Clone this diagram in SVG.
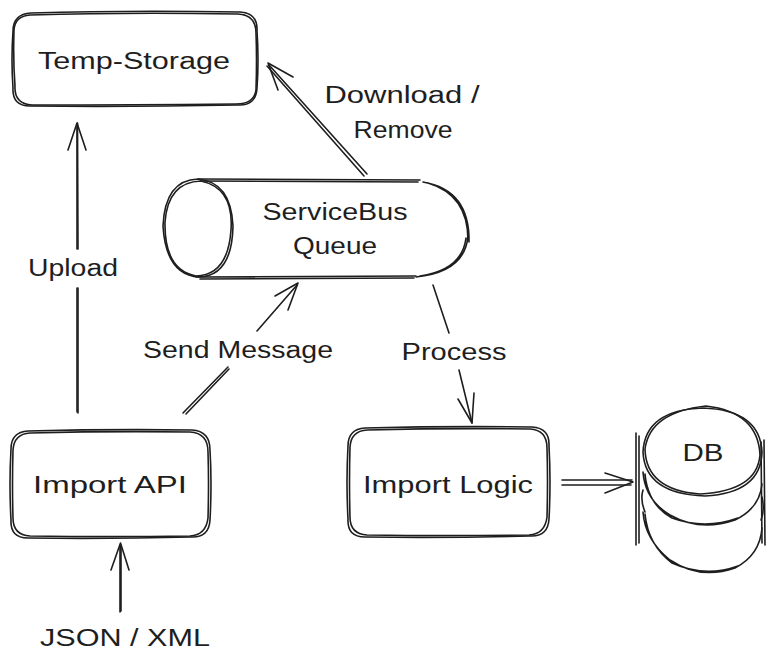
<svg xmlns="http://www.w3.org/2000/svg" width="776" height="667" viewBox="0 0 776 667">
<defs>
<style>
.s{fill:none;stroke:#1e1e1e;stroke-width:1.6;stroke-linecap:round;stroke-linejoin:round}
.f{fill:#ffffff;stroke:none}
text{font-family:"Liberation Sans","DejaVu Sans",sans-serif;font-size:23px;fill:#1e1e1e;text-anchor:middle;dominant-baseline:central}
</style>
</defs>
<rect width="776" height="667" fill="#ffffff"/>

<g id="connectors">
  <!-- Upload -->
  <path class="s" d="M77 412 L77 288 M77 249 L77 124"/>
  <path class="s" d="M78 413 L78 288 M78 249 L77.5 123"/>
  <path class="s" d="M68 150 L77 123 L86 150"/>
  <text x="73" y="268" textLength="90" lengthAdjust="spacingAndGlyphs">Upload</text>
  <!-- JSON / XML -->
  <path class="s" d="M120 612 L120 545 M121 611 L121 546"/>
  <path class="s" d="M111 570 L120.5 543 L129 570"/>
  <text x="125" y="638" textLength="170" lengthAdjust="spacingAndGlyphs">JSON / XML</text>
  <!-- Download / Remove -->
  <path class="s" d="M367 174 L269 65 M364 176 L267 66"/>
  <path class="s" d="M293 77 L268 63 L278 90"/>
  <text x="402" y="95" textLength="155" lengthAdjust="spacingAndGlyphs">Download /</text>
  <text x="403" y="130" textLength="99" lengthAdjust="spacingAndGlyphs">Remove</text>
  <!-- Send Message -->
  <path class="s" d="M183 413 L228 367 M186 414 L229 369 M257 331 L297 285"/>
  <path class="s" d="M275 296 L298 283 L288 310"/>
  <text x="238" y="350" textLength="190" lengthAdjust="spacingAndGlyphs">Send Message</text>
  <!-- Process -->
  <path class="s" d="M433 285 L449 333 M459 370 L472 423"/>
  <path class="s" d="M458 399 L472 423 L474 393"/>
  <text x="454" y="352" textLength="105" lengthAdjust="spacingAndGlyphs">Process</text>
  <!-- Import Logic -> DB -->
  <path class="s" d="M562 480 L632 480 M562 485 L631 485"/>
  <path class="s" d="M605 473 L633 482 L605 493"/>
</g>

<g id="temp-storage">
  <rect class="f" x="12" y="12" width="246" height="94" rx="18"/>
  <path class="s" d="M31 13 Q130 10 240 12 Q258 13 257 31 Q259 60 257 88 Q256 106 238 105 Q130 107 30 106 Q12 106 13 88 Q11 60 13 31 Q13 14 31 13"/>
  <path class="s" d="M30 15 Q130 12 238 14 Q256 15 256 33 Q257 60 256 90 Q254 104 236 104 Q130 105 32 105 Q14 104 15 86 Q13 60 14 30 Q15 16 30 15"/>
  <text x="134" y="61" textLength="192" lengthAdjust="spacingAndGlyphs">Temp-Storage</text>
</g>

<g id="servicebus-queue">
  <path class="f" d="M198 178 L435 178 Q472 180 470 228 Q468 276 430 278 L198 278 Z"/>
  <ellipse class="f" cx="198" cy="228" rx="35" ry="50"/>
  <path class="s" d="M198 179 L420 180 M200 181 L418 182 M196 277 L416 276 M200 279 L414 278"/>
  <path class="s" d="M423 182 Q470 190 469 242 M428 183 Q468 195 468 240"/>
  <path class="s" d="M468 236 Q465 272 416 277 M466 238 Q462 270 420 276"/>
  <path class="s" d="M198 179 Q231 182 233 226 Q232 276 199 277 Q166 275 163 226 Q165 180 198 179"/>
  <path class="s" d="M201 181 Q234 188 231 230 Q228 275 196 276 Q164 270 165 222 Q168 182 201 181"/>
  <text x="335" y="212" textLength="145" lengthAdjust="spacingAndGlyphs">ServiceBus</text>
  <text x="335" y="246" textLength="84" lengthAdjust="spacingAndGlyphs">Queue</text>
</g>

<g id="import-api">
  <rect class="f" x="10" y="430" width="200" height="108" rx="18"/>
  <path class="s" d="M28 431 Q110 429 192 430 Q210 431 210 450 Q212 484 210 520 Q209 538 191 537 Q110 539 28 538 Q10 538 11 520 Q9 484 11 449 Q11 432 28 431"/>
  <path class="s" d="M30 433 Q110 431 190 432 Q208 433 208 452 Q209 484 208 518 Q206 535 190 536 Q110 537 30 536 Q13 535 13 518 Q12 484 13 450 Q14 434 30 433"/>
  <text x="110" y="485" textLength="154" lengthAdjust="spacingAndGlyphs">Import API</text>
</g>

<g id="import-logic">
  <rect class="f" x="347" y="427" width="203" height="110" rx="18"/>
  <path class="s" d="M365 428 Q448 426 532 427 Q550 428 549 446 Q551 482 549 519 Q548 537 530 536 Q448 538 365 537 Q347 537 348 519 Q346 482 348 446 Q348 429 365 428"/>
  <path class="s" d="M367 430 Q448 428 530 429 Q547 430 547 448 Q548 482 547 517 Q545 534 529 535 Q448 536 367 535 Q350 534 350 517 Q349 482 350 447 Q351 431 367 430"/>
  <text x="448" y="485" textLength="170" lengthAdjust="spacingAndGlyphs">Import Logic</text>
</g>

<g id="db">
  <path class="f" d="M637 440 Q660 405 703 407 Q755 405 763 440 L764 545 Q740 578 703 576 Q655 575 637 545 Z"/>
  <path class="s" d="M636 433 L636 545 M639 436 L639 543 M764 440 L765 545 M761 442 L762 543"/>
  <!-- bottom layer -->
  <path class="s" d="M643 512 Q645 540 670 560 Q700 580 735 568 Q760 555 762 528 M645 514 Q648 545 672 563 Q705 578 738 566"/>
  <!-- middle layer -->
  <path class="s" d="M643 472 Q645 500 670 515 Q700 532 735 520 Q760 508 762 484 M645 474 Q648 505 672 518 Q705 530 738 518"/>
  <path class="s" d="M643 490 Q640 500 645 512 M762 497 Q765 510 761 520"/>
  <!-- top ellipse -->
  <path class="s" d="M703 408 Q760 410 762 452 Q761 493 705 496 Q645 494 643 452 Q645 410 703 408"/>
  <path class="s" d="M706 406 Q758 412 760 455 Q757 491 700 494 Q646 490 645 449 Q650 412 706 406"/>
  <text x="703" y="453" textLength="41" lengthAdjust="spacingAndGlyphs">DB</text>
</g>
</svg>
